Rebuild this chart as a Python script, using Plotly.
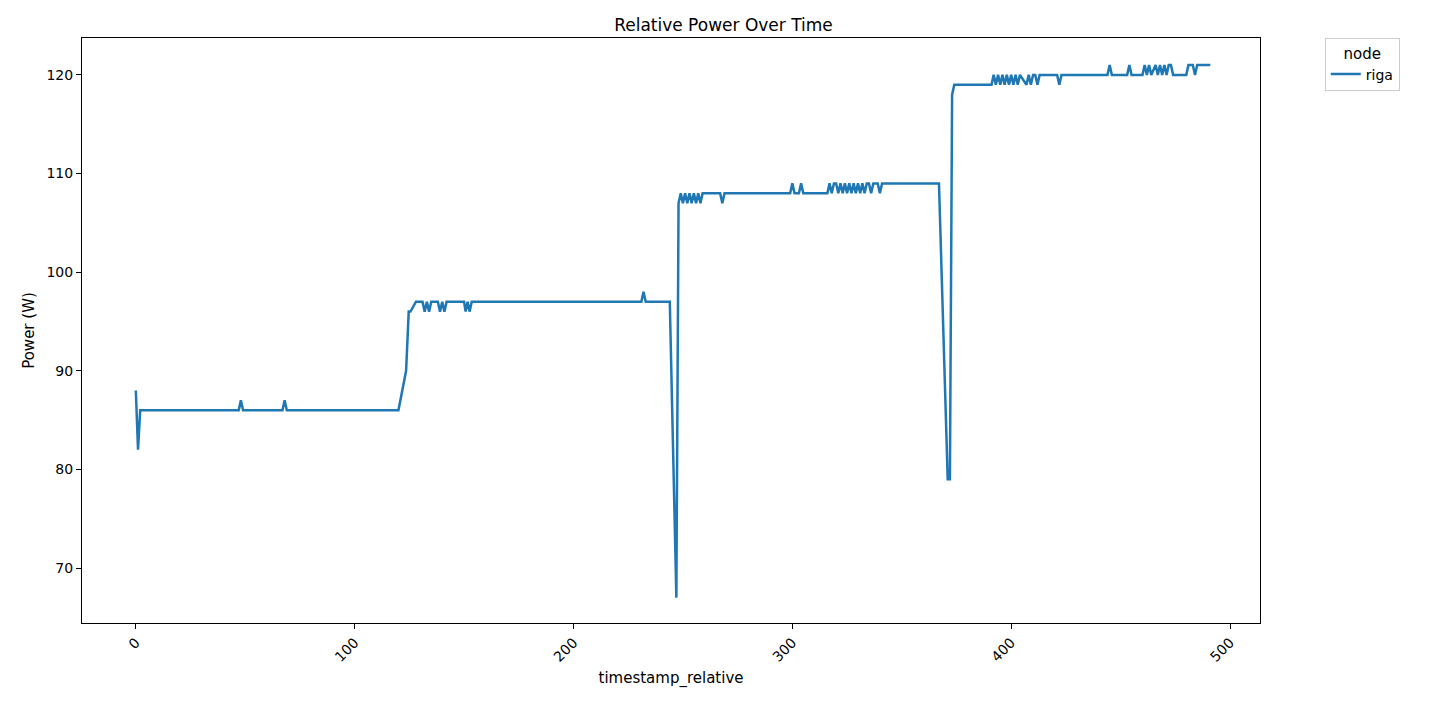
import plotly.graph_objects as go

# riga node, relative power readings
ts = [0, 1, 2, 47, 48, 49, 67, 68, 69, 120, 123.5, 124.7, 125.5, 128, 131, 132, 133, 134, 135, 138, 139, 140, 141, 142,
      150, 150.7, 151.6, 152.5, 153.5, 231, 232, 233, 244, 247, 248,
      249, 250, 251, 252, 253, 254, 255, 256, 257, 258, 259, 260, 267, 268, 269,
      299, 300, 301, 303, 304, 305, 316, 317, 318, 319, 320, 321, 322, 323, 324, 325, 326, 327, 328, 329, 330,
      331, 332, 333, 334, 335, 336, 337, 338, 339, 340, 341, 342, 367, 371, 372, 373, 374,
      391, 392, 393, 394, 395, 396, 397, 398, 399, 400, 401, 402, 403, 404, 407, 408, 409, 410, 411, 412, 413, 414,
      415, 416, 421, 422, 423, 424, 444, 445, 446, 453, 454, 455, 460, 461, 462, 463, 464, 466, 467, 468, 469, 470,
      471, 472, 473, 474, 476, 480, 481, 482, 483, 484, 485, 486, 491]
power = [88, 82, 86, 86, 87, 86, 86, 87, 86, 86, 90, 96, 96, 97, 97, 96, 97, 96, 97, 97, 96, 97, 96, 97,
         97, 96, 97, 96, 97, 97, 98, 97, 97, 67, 107,
         108, 107, 108, 107, 108, 107, 108, 107, 108, 107, 108, 108, 108, 107, 108,
         108, 109, 108, 108, 109, 108, 108, 109, 108, 109, 109, 108, 109, 108, 109, 108, 109, 108, 109, 108, 109,
         108, 109, 108, 109, 109, 108, 109, 109, 109, 108, 109, 109, 109, 79, 79, 118, 119,
         119, 120, 119, 120, 119, 120, 119, 120, 119, 120, 119, 120, 119, 120, 119, 120, 119, 120, 120, 119, 120, 120,
         120, 120, 120, 119, 120, 120, 120, 121, 120, 120, 121, 120, 120, 121, 120, 121, 120, 121, 120, 121, 120, 121,
         120, 121, 121, 120, 120, 120, 121, 121, 121, 120, 121, 121, 121]

fig = go.Figure()
fig.add_trace(go.Scatter(x=ts, y=power, mode="lines", name="riga",
                         line=dict(color="#1f77b4", width=2.5)))

axis_style = dict(showgrid=False, zeroline=False, showline=True, mirror=True,
                  linecolor="black", linewidth=1, ticks="outside", ticklen=5,
                  tickcolor="black", tickfont=dict(size=14, color="black"))

fig.update_layout(
    width=1431, height=708,
    paper_bgcolor="white", plot_bgcolor="white",
    font=dict(family="DejaVu Sans", color="black"),
    title=dict(text="Relative Power Over Time", x=0.5, xanchor="center", y=0.985,
               yanchor="top", font=dict(size=17)),
    margin=dict(l=74, r=179, t=30, b=93),
    showlegend=True,
    legend=dict(title=dict(text="node", side="top center", font=dict(size=15)),
                x=1.055, y=1, xanchor="left", yanchor="top",
                bordercolor="#cccccc", borderwidth=1, font=dict(size=14)),
    xaxis=dict(title=dict(text="timestamp_relative", font=dict(size=15), standoff=8),
               range=[-24.6, 513.7], tickvals=[0, 100, 200, 300, 400, 500],
               tickangle=-45, **axis_style),
    yaxis=dict(title=dict(text="Power (W)", font=dict(size=15), standoff=8),
               range=[64.43, 123.74], tickvals=[70, 80, 90, 100, 110, 120], **axis_style),
)

fig.write_html("out.html")
